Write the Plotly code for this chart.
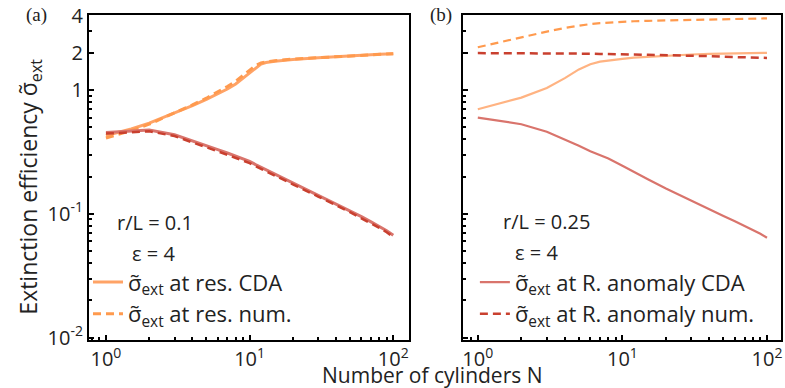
import plotly.graph_objects as go

# ---------------- data ----------------
N_a = [1, 1.5, 2, 3, 4, 5, 6, 7, 8, 9, 10, 11, 12, 13, 15, 20, 30, 40, 50, 60, 70, 80, 90, 100]
res_cda_a = [0.43, 0.485, 0.54, 0.65, 0.75, 0.84, 0.93, 1.02, 1.12, 1.24, 1.37, 1.50, 1.62, 1.67, 1.71, 1.77, 1.83, 1.87, 1.90, 1.92, 1.94, 1.95, 1.96, 1.97]
res_num_a = [0.41, 0.47, 0.53, 0.65, 0.76, 0.86, 0.96, 1.07, 1.18, 1.31, 1.45, 1.58, 1.66, 1.69, 1.73, 1.78, 1.83, 1.87, 1.90, 1.92, 1.94, 1.95, 1.96, 1.97]
ra_cda_a = [0.455, 0.47, 0.475, 0.435, 0.39, 0.355, 0.33, 0.31, 0.292, 0.278, 0.265, 0.25, 0.238, 0.228, 0.208, 0.178, 0.142, 0.121, 0.106, 0.095, 0.086, 0.079, 0.073, 0.067]
ra_num_a = [0.445, 0.46, 0.465, 0.425, 0.38, 0.345, 0.32, 0.30, 0.283, 0.27, 0.257, 0.243, 0.231, 0.221, 0.202, 0.173, 0.138, 0.118, 0.103, 0.092, 0.084, 0.077, 0.071, 0.065]

N_b = [1, 2, 3, 4, 5, 6, 7, 8, 10, 12, 15, 20, 30, 40, 50, 60, 70, 80, 90, 100]
res_cda_b = [0.70, 0.87, 1.04, 1.25, 1.47, 1.62, 1.70, 1.74, 1.79, 1.83, 1.86, 1.90, 1.94, 1.96, 1.97, 1.98, 1.99, 1.99, 2.0, 2.0]
res_num_b = [2.22, 2.68, 2.97, 3.18, 3.32, 3.42, 3.48, 3.52, 3.57, 3.60, 3.63, 3.66, 3.70, 3.73, 3.75, 3.76, 3.77, 3.78, 3.79, 3.80]
ra_cda_b = [0.60, 0.53, 0.46, 0.40, 0.355, 0.32, 0.30, 0.28, 0.245, 0.22, 0.19, 0.16, 0.127, 0.108, 0.096, 0.087, 0.080, 0.074, 0.069, 0.064]
ra_num_b = [1.99, 1.99, 1.98, 1.98, 1.97, 1.97, 1.96, 1.96, 1.95, 1.94, 1.93, 1.92, 1.90, 1.88, 1.86, 1.85, 1.84, 1.83, 1.82, 1.82]

x_tickvals = [1, 10, 100]
x_ticktext = ["10<sup>0</sup>", "10<sup>1</sup>", "10<sup>2</sup>"]
y_tickvals = [0.01, 0.1, 1, 2, 4]
y_ticktext = ["10<sup>-2</sup>", "10<sup>-1</sup>", "1", "2", "4"]

SIG = "σ̃<sub>ext</sub>"
FONT = "Open Sans"
FS = 20
FS_LEG = 22
FS_YTITLE = 23
FS_XTITLE = 21

ORANGE = "#FF9A4E"
ORANGE_L = "#FFB382"
RED = "#C9402F"
RED_L = "#D9746C"

fig = go.Figure()

# panel (a)
fig.add_trace(go.Scatter(x=N_a, y=res_cda_a, mode="lines", name=SIG + " at res. CDA",
                         line=dict(color="#FFA366", width=3), legend="legend", xaxis="x", yaxis="y"))
fig.add_trace(go.Scatter(x=N_a, y=res_num_a, mode="lines", name=SIG + " at res. num.",
                         line=dict(color=ORANGE, width=3, dash="8px,5px"), legend="legend", xaxis="x", yaxis="y"))
fig.add_trace(go.Scatter(x=N_a, y=ra_cda_a, mode="lines", showlegend=False,
                         line=dict(color=RED_L, width=3), xaxis="x", yaxis="y"))
fig.add_trace(go.Scatter(x=N_a, y=ra_num_a, mode="lines", showlegend=False,
                         line=dict(color=RED, width=2.5, dash="8px,5px"), xaxis="x", yaxis="y"))

# panel (b)
fig.add_trace(go.Scatter(x=N_b, y=res_cda_b, mode="lines", showlegend=False,
                         line=dict(color=ORANGE_L, width=2.2), xaxis="x2", yaxis="y2"))
fig.add_trace(go.Scatter(x=N_b, y=res_num_b, mode="lines", showlegend=False,
                         line=dict(color=ORANGE, width=2.2, dash="8px,5px"), xaxis="x2", yaxis="y2"))
fig.add_trace(go.Scatter(x=N_b, y=ra_cda_b, mode="lines", name=SIG + " at R. anomaly CDA",
                         line=dict(color=RED_L, width=2.2), legend="legend2", xaxis="x2", yaxis="y2"))
fig.add_trace(go.Scatter(x=N_b, y=ra_num_b, mode="lines", name=SIG + " at R. anomaly num.",
                         line=dict(color=RED, width=2.5, dash="8px,5px"), legend="legend2", xaxis="x2", yaxis="y2"))

minor_x = [m * 10 ** e for e in (-1, 0, 1) for m in range(2, 10) if 0.78 < m * 10 ** e < 100]
minor_y = [m * 10 ** e for e in (-2, -1, 0) for m in range(2, 10) if m * 10 ** e < 4]

def xax(domain, rng):
    return dict(type="log", domain=domain, range=rng, tickmode="array", tickvals=x_tickvals,
                ticktext=x_ticktext, ticks="inside", ticklen=5, tickwidth=2, tickcolor="black",
                showline=True, linecolor="black", linewidth=2, mirror=True, showgrid=False,
                zeroline=False, tickfont=dict(family=FONT, size=FS, color="#222"),
                minor=dict(tickmode="array", tickvals=minor_x, ticks="inside", ticklen=3,
                           tickwidth=1.5, tickcolor="black", showgrid=False))

def yax(show, anchor):
    return dict(type="log", domain=[0, 1], range=[-2.02, 0.607], tickmode="array",
                tickvals=y_tickvals, ticktext=y_ticktext, showticklabels=show, anchor=anchor,
                ticks="inside", ticklen=5, tickwidth=2, tickcolor="black",
                showline=True, linecolor="black", linewidth=2, mirror=True, showgrid=False,
                zeroline=False, tickfont=dict(family=FONT, size=FS, color="#222"),
                minor=dict(tickmode="array", tickvals=minor_y, ticks="inside", ticklen=3,
                           tickwidth=1.5, tickcolor="black", showgrid=False))

W, H = 785, 388
ML, MR, MT, MB = 89, 2, 14, 48
PW, PH = W - ML - MR, H - MT - MB

def px(x):
    return (x - ML) / PW

def py(y):
    return (H - MB - y) / PH

fig.update_layout(
    width=W, height=H, margin=dict(l=ML, r=MR, t=MT, b=MB),
    paper_bgcolor="white", plot_bgcolor="white",
    font=dict(family=FONT, size=FS, color="#222"),
    xaxis=xax([0, px(410)], [-0.118, 2.11]),
    yaxis=yax(True, "x"),
    xaxis2=xax([px(464), 1.0], [-0.103, 2.097]),
    yaxis2=yax(False, "x2"),
    legend=dict(x=px(88), y=py(261), xanchor="left", yanchor="top", bgcolor="rgba(0,0,0,0)",
                font=dict(family=FONT, size=FS_LEG, color="#222"), tracegroupgap=0,
                itemwidth=30),
    legend2=dict(x=px(476), y=py(261), xanchor="left", yanchor="top", bgcolor="rgba(0,0,0,0)",
                 font=dict(family=FONT, size=FS_LEG, color="#222"), tracegroupgap=0,
                 itemwidth=30),
    showlegend=True,
)

ann = [
    dict(text="Extinction efficiency " + SIG, x=px(29), y=py(186), textangle=-90,
         yanchor="middle", size=FS_YTITLE),
    dict(text="Number of cylinders N", x=px(433), y=py(391), yanchor="bottom", size=FS_XTITLE),
    dict(text="r/L = 0.1", x=px(155), y=py(222), yanchor="middle", size=FS),
    dict(text="ε = 4", x=px(154), y=py(253), yanchor="middle", size=FS),
    dict(text="r/L = 0.25", x=px(548), y=py(221), yanchor="middle", size=FS),
    dict(text="ε = 4", x=px(538), y=py(252), yanchor="middle", size=FS),
]
for a in ann:
    size = a.pop("size")
    fig.add_annotation(xref="paper", yref="paper", showarrow=False, xanchor="center",
                       font=dict(family=FONT, size=size, color="#222"), **a)
for t, x in (("(a)", 36), ("(b)", 442)):
    fig.add_annotation(text=t, xref="paper", yref="paper", x=px(x), y=py(14), showarrow=False,
                       xanchor="center", yanchor="middle",
                       font=dict(family="Liberation Serif", size=19, color="#222"))

fig.write_html("out.html")
